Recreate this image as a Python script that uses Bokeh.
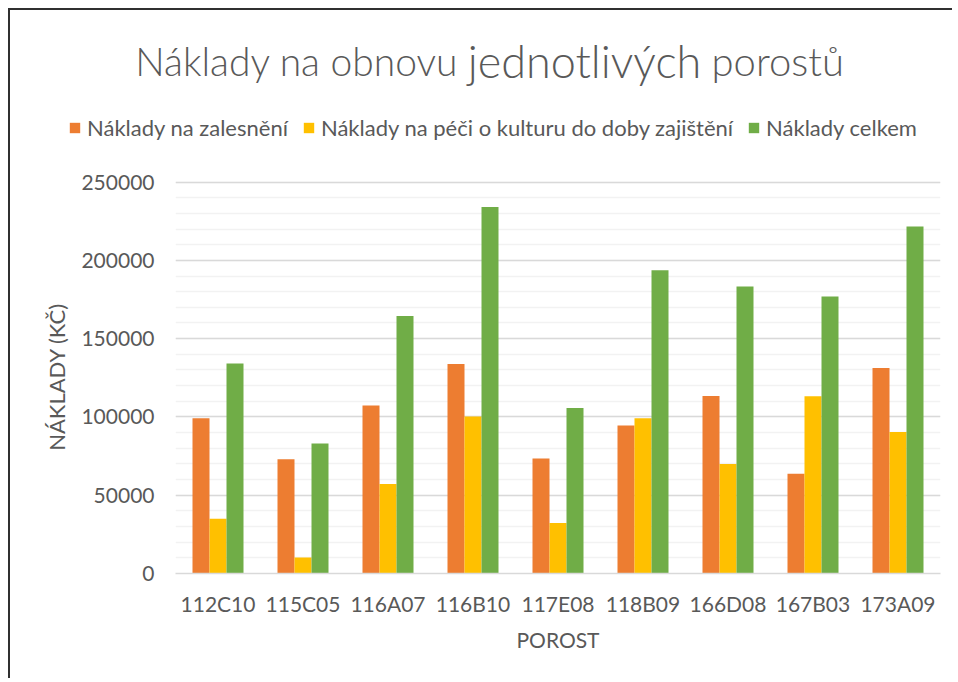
from bokeh.plotting import figure
from bokeh.layouts import column
from bokeh.models import (FactorRange, Range1d, SingleIntervalTicker, Legend, LegendItem,
                          Label, NumeralTickFormatter, ColumnDataSource)
from bokeh.transform import dodge
from bokeh.embed import file_html
from bokeh.resources import INLINE

# ---- data ----
porosty = ["112C10", "115C05", "116A07", "116B10", "117E08", "118B09", "166D08", "167B03", "173A09"]
naklady_zalesneni = [99200, 72900, 107300, 133800, 73400, 94500, 113400, 63700, 131200]
naklady_pece = [34900, 10200, 57100, 100300, 32300, 99200, 69900, 113200, 90300]
naklady_celkem = [134100, 83100, 164400, 234100, 105700, 193700, 183300, 176900, 221700]
series_names = ["Náklady na zalesnění", "Náklady na péči o kulturu do doby zajištění", "Náklady celkem"]
series_colors = ["#ED7D31", "#FFC000", "#70AD47"]
y_max = 250000
y_step = 50000
title_parts = ["Náklady na obnovu", "jednotlivých", "porostů"]
x_title = "POROST"
y_title = "NÁKLADY (KČ)"

FONT = "Lato"
TXT = "#595959"
W = 944
HEAD_H = 148
NAN = float("nan")

# ---------- header (title + legend) ----------
top = figure(width=W, height=HEAD_H, x_range=Range1d(0, W), y_range=Range1d(0, HEAD_H),
             min_border=0, toolbar_location=None, output_backend="svg",
             x_axis_location=None, y_axis_location=None, outline_line_color=None,
             background_fill_color="white", border_fill_color="white", title=None)
top.frame_align = False
top.grid.visible = False

# legend proxies (no visible marks)
proxies = [top.vbar(x=[NAN], top=[NAN], width=1, fill_color=c, line_color=None) for c in series_colors]
legend = Legend(items=[LegendItem(label=series_names[i], renderers=[proxies[i]]) for i in range(3)],
                location=(58, 17), orientation="horizontal",
                glyph_width=13, glyph_height=13, label_standoff=6, spacing=14,
                padding=0, margin=0, border_line_color=None, background_fill_alpha=0,
                label_text_font=FONT, label_text_font_size="22px", label_text_color=TXT)
top.add_layout(legend, "center")

tfont = "Lato Light, Lato"
title_y = 98
top.add_layout(Label(x=448, y=title_y, x_units="screen", y_units="screen", text=title_parts[0],
                     text_align="right", text_baseline="alphabetic", text_font=tfont,
                     text_font_size="39px", text_color=TXT))
top.add_layout(Label(x=574, y=title_y, x_units="screen", y_units="screen", text=title_parts[1],
                     text_align="center", text_baseline="alphabetic", text_font=tfont,
                     text_font_size="45px", text_color=TXT))
top.add_layout(Label(x=701, y=title_y, x_units="screen", y_units="screen", text=title_parts[2],
                     text_align="left", text_baseline="alphabetic", text_font=tfont,
                     text_font_size="40px", text_color=TXT))

# ---------- main chart ----------
src = ColumnDataSource(dict(porost=porosty, zal=naklady_zalesneni,
                            pece=naklady_pece, celkem=naklady_celkem))

p = figure(x_range=FactorRange(factors=porosty), y_range=Range1d(0, y_max * 1.004),
           width=W, height=522, output_backend="svg", toolbar_location=None,
           min_border_left=165, min_border_right=14, min_border_top=22, min_border_bottom=107,
           background_fill_color="white", border_fill_color="white", outline_line_color=None,
           title=None)
p.frame_align = False

for i, (col, off) in enumerate(zip(["zal", "pece", "celkem"], [-0.2, 0.0, 0.2])):
    p.vbar(x=dodge("porost", off, range=p.x_range), top=col, width=0.2, source=src,
           fill_color=series_colors[i], line_color=None)

p.yaxis.ticker = SingleIntervalTicker(interval=y_step, num_minor_ticks=5)
p.yaxis.formatter = NumeralTickFormatter(format="0")
p.yaxis.axis_line_color = None
p.yaxis.major_tick_line_color = None
p.yaxis.minor_tick_line_color = None
p.yaxis.major_label_standoff = 15
p.yaxis.major_label_text_font = FONT
p.yaxis.major_label_text_font_size = "21px"
p.yaxis.major_label_text_color = TXT
p.yaxis.axis_label = y_title
p.yaxis.axis_label_text_font = FONT
p.yaxis.axis_label_text_font_size = "22px"
p.yaxis.axis_label_text_font_style = "normal"
p.yaxis.axis_label_text_color = TXT
p.yaxis.axis_label_standoff = 8

p.xaxis.axis_line_color = "#D9D9D9"
p.xaxis.axis_line_width = 1.5
p.xaxis.major_tick_line_color = None
p.xaxis.minor_tick_line_color = None
p.xaxis.major_label_standoff = 11
p.xaxis.major_label_text_font = FONT
p.xaxis.major_label_text_font_size = "21px"
p.xaxis.major_label_text_color = TXT
p.xaxis.axis_label = x_title
p.xaxis.axis_label_text_font = FONT
p.xaxis.axis_label_text_font_size = "21px"
p.xaxis.axis_label_text_font_style = "normal"
p.xaxis.axis_label_text_color = TXT
p.xaxis.axis_label_standoff = 8

p.xgrid.grid_line_color = None
p.ygrid.grid_line_color = "#D9D9D9"
p.ygrid.grid_line_width = 1.5
p.ygrid.minor_grid_line_color = "#F2F2F2"
p.ygrid.minor_grid_line_width = 1.5

# frame of the chart object: dark line on the top and left (as cropped in the reference)
layout = column(top, p, spacing=0,
                styles={"margin-left": "10px", "margin-top": "10px",
                        "box-shadow": "-2px -2px 0 0 #303030"})

open("out.html", "w").write(file_html(layout, INLINE))
